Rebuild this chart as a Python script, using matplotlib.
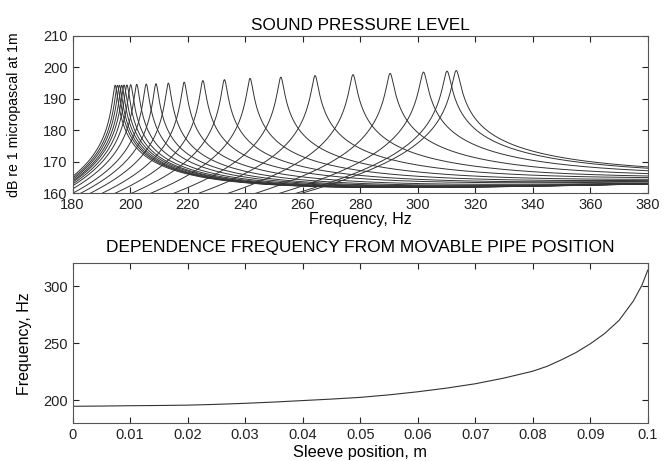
import numpy as np
import matplotlib
matplotlib.use("Agg")
import matplotlib.pyplot as plt

plt.rcParams['font.family'] = ['Liberation Sans', 'DejaVu Sans']
plt.rcParams['font.size'] = 10.5

# resonance peaks
peak_freq = [194.8, 195.6, 196.3, 197.1, 197.9, 198.9, 200.2, 202.3, 205.6, 209.0, 213.3,
             218.8, 225.3, 232.8, 241.7, 252.4, 264.3, 277.5, 290.4, 302.0, 310.2, 313.4]
peak_level = [194.3, 194.3, 194.3, 194.3, 194.4, 194.4, 194.5, 194.6, 194.7, 194.8, 195.0,
              195.3, 195.8, 196.1, 196.5, 196.9, 197.4, 197.7, 198.1, 198.5, 198.8, 199.0]
q_factor = 145
tilt = 3.6

# lower plot: resonance frequency vs sleeve position
sleeve_pos = [0, 0.005, 0.01, 0.015, 0.02, 0.025, 0.03, 0.035, 0.04, 0.045, 0.05, 0.055,
              0.06, 0.065, 0.07, 0.075, 0.08, 0.0825, 0.085, 0.0875, 0.09, 0.0925, 0.095,
              0.0975, 0.099, 0.1]
sleeve_freq = [194.8, 195.0, 195.3, 195.5, 195.8, 196.5, 197.4, 198.5, 199.8, 201.1, 202.6, 204.8,
               207.5, 210.7, 214.5, 219.5, 225.5, 229.8, 235.5, 241.8, 249.5, 258.5, 270.0,
               287.0, 301.0, 314.0]


def spl_curve(f, f0, lp):
    # single resonator response, normalised to its peak level
    num = (f0 ** 2 - f ** 2) ** 2 + (f * f0 / q_factor) ** 2
    return lp + 20 * tilt * np.log10(f / f0) - 10 * np.log10(num / (f0 ** 2 / q_factor) ** 2)


def matlab_axes(ax):
    ax.tick_params(direction='in', top=True, right=True, length=4, width=0.8, colors='#222',
                   labelsize=10.5)
    for s in ax.spines.values():
        s.set_color('#555')
        s.set_linewidth(0.8)


fig = plt.figure(figsize=(6.72, 4.61), dpi=100)
ax1 = fig.add_axes([0.108, 0.581, 0.856, 0.341])
ax2 = fig.add_axes([0.108, 0.082, 0.856, 0.347])

freq = np.linspace(180, 380, 2001)
for f0, lp in zip(peak_freq, peak_level):
    ax1.plot(freq, spl_curve(freq, f0, lp), color='#333', lw=0.7)
ax1.set_xlim(180, 380)
ax1.set_ylim(160, 210)
ax1.set_xticks(np.arange(180, 381, 20))
ax1.set_yticks(np.arange(160, 211, 10))
ax1.set_title('SOUND PRESSURE LEVEL', fontsize=12.3, pad=4)
ax1.set_xlabel('Frequency, Hz', fontsize=11.5, labelpad=0)
ax1.set_ylabel('dB re 1 micropascal at 1m', fontsize=10.2)
ax1.yaxis.set_label_coords(-0.09, 0.5)
matlab_axes(ax1)

ax2.plot(sleeve_pos, sleeve_freq, color='#333', lw=0.8)
ax2.set_xlim(0, 0.1)
ax2.set_ylim(180, 320)
ax2.set_xticks(np.arange(0, 0.1001, 0.01))
ax2.set_xticklabels(['0', '0.01', '0.02', '0.03', '0.04', '0.05', '0.06', '0.07', '0.08', '0.09', '0.1'])
ax2.set_yticks([200, 250, 300])
ax2.set_title('DEPENDENCE FREQUENCY FROM MOVABLE PIPE POSITION', fontsize=12.5, pad=8)
ax2.set_xlabel('Sleeve position, m', fontsize=11.8, labelpad=2)
ax2.set_ylabel('Frequency, Hz', fontsize=11.5)
ax2.yaxis.set_label_coords(-0.07, 0.5)
matlab_axes(ax2)

fig.savefig('out.png', dpi=100)
